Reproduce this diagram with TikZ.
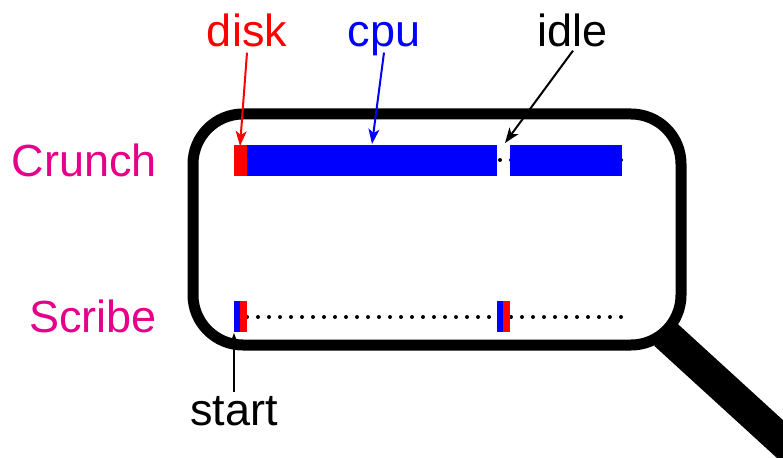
\documentclass[tikz,border=0pt]{standalone}
\usepackage{fontspec}
\setmainfont{Liberation Sans}
\usetikzlibrary{arrows.meta}
\definecolor{procpink}{RGB}{230,0,137}
\tikzset{
  lbl/.style={inner sep=0pt,anchor=base,font=\fontsize{45}{54}\selectfont},
  ptr/.style={line width=2pt,-{Stealth[length=15pt,width=11pt,inset=4pt]}},
  idledots/.style={line width=4pt,line cap=round,dash pattern=on 0pt off 11pt}
}

\begin{document}
\begin{tikzpicture}[x=1pt,y=-1pt]
  \useasboundingbox (0,0) rectangle (783,457);
  % magnifier: handle first, clipped at the page edge
  \begin{scope}
    \clip (0,0) rectangle (783,457);
    \draw[line width=32pt] (665,334) -- (850,503);
  \end{scope}
  \draw[line width=11pt,rounded corners=50pt] (193,114) rectangle (681,345);

  \node[lbl,anchor=base east,text=procpink] (crunchlbl) at (157,176) {Crunch};
  \node[lbl,anchor=base east,text=procpink] (scribelbl) at (157,332) {Scribe};

  % timelines
  \draw[idledots] (247,160) -- (622,160);
  \draw[idledots] (247,317) -- (622,317);
  \fill[red]  (234,145) rectangle (247,176);
  \fill[blue] (247,145) rectangle (497,176);
  \fill[blue] (510,145) rectangle (622,176);
  \fill[blue] (234,301) rectangle (240,332);
  \fill[red]  (240,301) rectangle (247,332);
  \fill[blue] (497,301) rectangle (503,332);
  \fill[red]  (503,301) rectangle (510,332);

  \node[lbl,text=red]  (disklbl)  at (247,47)  {disk};
  \node[lbl,text=blue] (cpulbl)   at (384,47)  {cpu};
  \node[lbl]           (idlelbl)  at (573,47)  {idle};
  \node[lbl]           (startlbl) at (234,425) {start};
  \coordinate (disktip)  at (240,146);
  \coordinate (cputip)   at (372,144);
  \coordinate (idletip)  at (505,143);
  \coordinate (starttip) at (234,333);

  \draw[ptr,red]  ([yshift=-5pt]disklbl.south) -- (disktip);
  \draw[ptr,blue] ([yshift=4pt]cpulbl.south) -- (cputip);
  \draw[ptr]      ([yshift=-3pt]idlelbl.south) -- (idletip);
  \draw[ptr]      ([yshift=4pt]startlbl.north) -- (starttip);
\end{tikzpicture}
\end{document}
